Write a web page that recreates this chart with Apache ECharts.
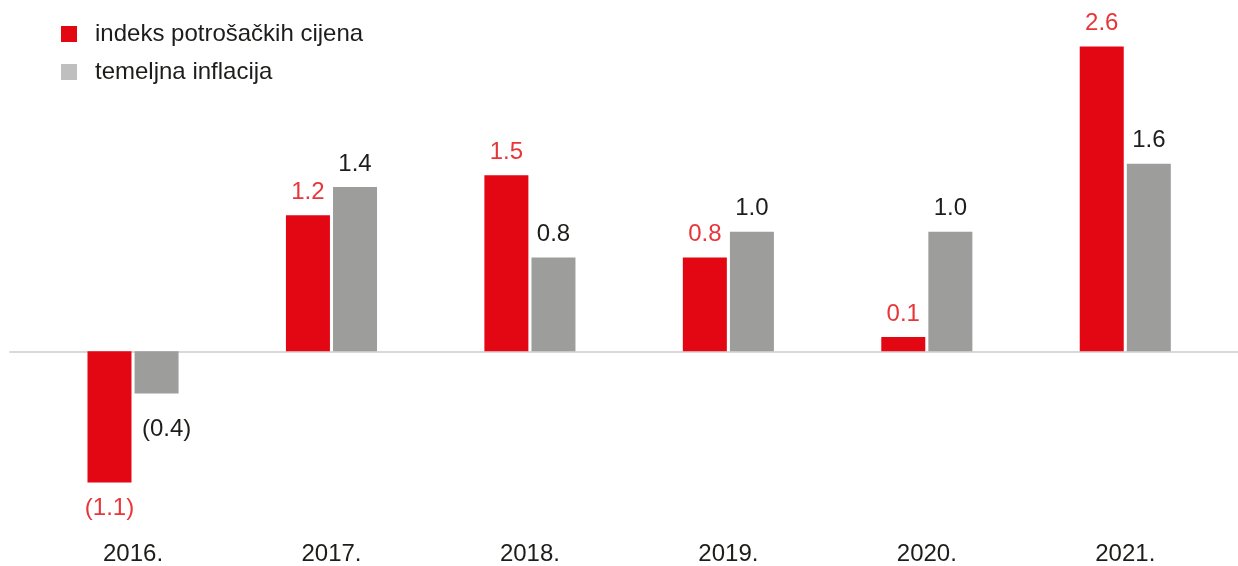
<!DOCTYPE html>
<html>
<head>
<meta charset="utf-8">
<script src="https://cdn.jsdelivr.net/npm/echarts@6/dist/echarts.min.js"></script>
<style>
html,body{margin:0;padding:0;background:#fff;}
#chart{width:1238px;height:566px;}
</style>
</head>
<body>
<div id="chart"></div>
<script>
const categories = ['2016.', '2017.', '2018.', '2019.', '2020.', '2021.'];
const seriesNames = ['indeks potrošačkih cijena', 'temeljna inflacija'];
const cpiValues = [-1.12, 1.16, 1.5, 0.8, 0.12, 2.6];
const coreValues = [-0.36, 1.4, 0.8, 1.02, 1.02, 1.6];

const RED = '#e30613';
const GREY = '#9d9d9c';
const FONT = '"Liberation Sans", Arial, sans-serif';

function fmt(v) {
  const s = Math.abs(v).toFixed(1);
  return v < 0 ? '(' + s + ')' : s;
}
function buildData(arr, negOffset) {
  return arr.map(v => ({
    value: v,
    label: v < 0
      ? { position: 'bottom', distance: 14, offset: negOffset }
      : { position: 'top', distance: 11 }
  }));
}

const chart = echarts.init(document.getElementById('chart'), null, { renderer: 'canvas' });
const yMin = -1.5, yMax = 2.8;
chart.setOption({
  animation: false,
  textStyle: { fontFamily: FONT },
  legend: {
    left: 61, top: 22, orient: 'vertical', padding: 0,
    itemWidth: 16, itemHeight: 16, itemGap: 14,
    icon: 'rect',
    textStyle: { fontSize: 24, color: '#1d1d1b', fontFamily: FONT, padding: [0, 0, 0, 13] },
    data: [
      { name: seriesNames[0], itemStyle: { color: RED } },
      { name: seriesNames[1], itemStyle: { color: '#bfbfbf' } }
    ]
  },
  grid: [
    { left: 33.8, right: 13.5, top: 23, bottom: 37.75 },
    { left: 10, right: 0, top: 23, bottom: 37.75 }
  ],
  xAxis: [
    {
      type: 'category', data: categories, gridIndex: 0,
      axisLine: { show: false, onZero: false }, axisTick: { show: false },
      axisLabel: { fontSize: 24, color: '#1d1d1b', margin: 15, fontFamily: FONT }
    },
    {
      type: 'category', data: [''], gridIndex: 1,
      axisLine: { show: true, onZero: true, lineStyle: { color: '#d9d9d9', width: 2 } },
      axisTick: { show: false }, axisLabel: { show: false }
    }
  ],
  yAxis: [
    { type: 'value', min: yMin, max: yMax, gridIndex: 0, show: false, splitLine: { show: false } },
    { type: 'value', min: yMin, max: yMax, gridIndex: 1, show: false, splitLine: { show: false } }
  ],
  series: [
    {
      name: seriesNames[0], type: 'bar', barWidth: 44, barGap: '7%', z: 3,
      itemStyle: { color: RED },
      label: { show: true, fontSize: 24, color: '#e8353a', fontFamily: FONT, formatter: p => fmt(p.value) },
      data: buildData(cpiValues, [0, 0])
    },
    {
      name: seriesNames[1], type: 'bar', barWidth: 44, z: 3,
      itemStyle: { color: GREY },
      label: { show: true, fontSize: 24, color: '#1d1d1b', fontFamily: FONT, formatter: p => fmt(p.value) },
      data: buildData(coreValues, [10, 10])
    }
  ]
});
</script>
</body>
</html>
